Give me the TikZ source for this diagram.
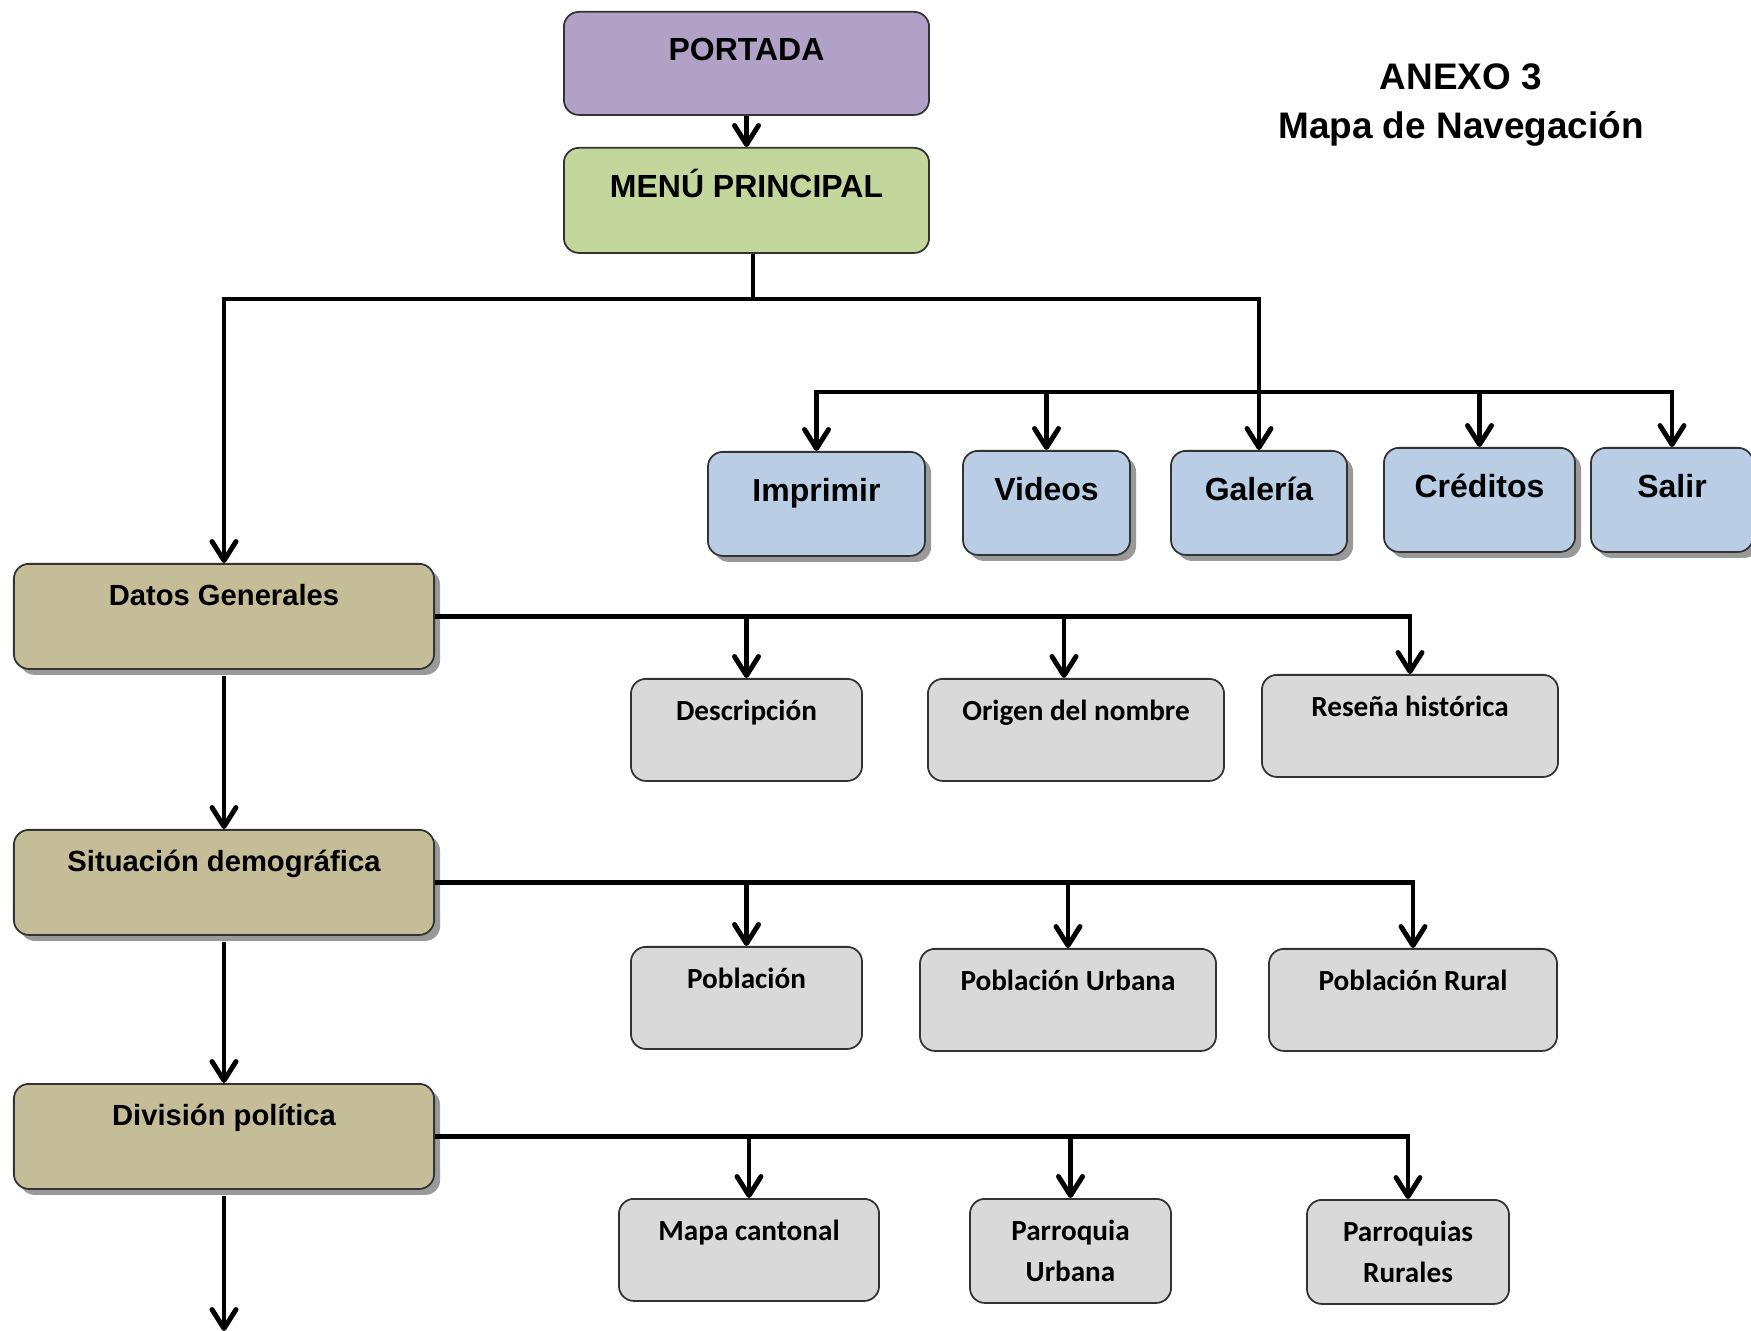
\documentclass[tikz,border=0pt]{standalone}
\usepackage{fontspec}
\usetikzlibrary{arrows.meta,shadows}
\newfontfamily\arialfont{Liberation Sans}
\newfontfamily\calibrifont{Carlito}
\definecolor{collila}{HTML}{B2A1C7}
\definecolor{cololiva}{HTML}{C3D69B}
\definecolor{colceleste}{HTML}{B9CDE5}
\definecolor{colarena}{HTML}{C4BD97}
\definecolor{colgris}{HTML}{D9D9D9}

\begin{document}
\begin{tikzpicture}[x=0.01cm,y=-0.01cm,
  caja/.style={draw=black!80,line width=0.5pt,rounded corners=0.15cm,anchor=north,
    inner xsep=0pt,inner ysep=0pt,align=center},
  sombra/.style={drop shadow={shadow xshift=0.06cm,shadow yshift=-0.06cm,fill=black!50,opacity=0.8}},
  cajaportada/.style={caja,fill=collila,font=\arialfont\bfseries\fontsize{9.1}{11}\selectfont,
    text height=0.485cm,text depth=0.545cm},
  cajamenu/.style={caja,fill=cololiva,font=\arialfont\bfseries\fontsize{9.1}{11}\selectfont,
    text height=0.495cm,text depth=0.555cm},
  cajaazul/.style={caja,sombra,fill=colceleste,font=\arialfont\bfseries\fontsize{9.1}{11}\selectfont,
    text height=0.495cm,text depth=0.545cm},
  cajaarena/.style={caja,sombra,fill=colarena,font=\arialfont\bfseries\fontsize{8.3}{11}\selectfont,
    text height=0.415cm,text depth=0.635cm},
  cajagris/.style={caja,fill=colgris,font=\calibrifont\bfseries\fontsize{8.3}{11.7}\selectfont,
    text height=0.42cm,text depth=0.60cm},
  cajagrisdos/.style={caja,fill=colgris,font=\calibrifont\bfseries\fontsize{8.3}{11.7}\selectfont,
    minimum height=1.04cm},
  titulo/.style={align=center,font=\arialfont\bfseries\fontsize{10.5}{14.2}\selectfont},
  conn/.style={line width=1.4pt},
  flecha/.style={conn,-{Straight Barb[length=1.9mm,width=2.4mm,round]}}
]
\useasboundingbox (0,0) rectangle (1751,1331);

\node[titulo] (titulo) at (1461,105) {ANEXO 3\\Mapa de Navegación};

\node[cajaportada,minimum width=3.65cm] (portada) at (746.5,11) {PORTADA};
\node[cajamenu,minimum width=3.65cm] (menu) at (746.5,147) {MENÚ PRINCIPAL};

\node[cajaazul,minimum width=2.17cm] (imprimir) at (816.5,451) {Imprimir};
\node[cajaazul,minimum width=1.67cm] (videos) at (1046.5,450) {Videos};
\node[cajaazul,minimum width=1.76cm] (galeria) at (1259,450) {Galería};
\node[cajaazul,minimum width=1.91cm] (creditos) at (1479.5,447) {Créditos};
\node[cajaazul,minimum width=1.62cm] (salir) at (1672,447) {Salir};

\node[cajaarena,minimum width=4.2cm] (datos) at (224,563) {Datos Generales};
\node[cajaarena,minimum width=4.2cm] (situacion) at (224,829) {Situación demográfica};
\node[cajaarena,minimum width=4.2cm] (division) at (224,1083) {División política};

\node[cajagris,minimum width=2.31cm] (descripcion) at (746.5,678) {Descripción};
\node[cajagris,minimum width=2.96cm] (origen) at (1076,678) {Origen del nombre};
\node[cajagris,minimum width=2.96cm] (resena) at (1410,674) {Reseña histórica};

\node[cajagris,minimum width=2.31cm] (poblacion) at (746.5,946) {Población};
\node[cajagris,minimum width=2.96cm] (urbana) at (1068,948) {Población Urbana};
\node[cajagris,minimum width=2.88cm] (rural) at (1413,948) {Población Rural};

\node[cajagris,minimum width=2.60cm] (mapa) at (749,1198) {Mapa cantonal};
\node[cajagrisdos,minimum width=2.01cm] (parroquia) at (1070.5,1198) {Parroquia\\Urbana};
\node[cajagrisdos,minimum width=2.02cm] (parroquias) at (1408,1199) {Parroquias\\Rurales};

\coordinate (ramal) at (753,299);
\coordinate (barra) at (0,392);
\coordinate (fin) at (224,1331);

\draw[flecha] (portada.south) -- (menu.north);
\draw[conn] (menu.south -| ramal) -- (ramal);
\draw[flecha] (ramal) -| (datos.north);
\draw[flecha] (ramal) -| (galeria.north);
\draw[flecha] (galeria.north |- barra) -| (imprimir.north);
\draw[flecha] (galeria.north |- barra) -| (salir.north);
\foreach \n in {videos,creditos}
\draw[flecha] (\n.north |- barra) -- (\n.north);

\draw[flecha] (datos.east) -| (resena.north);
\draw[flecha] (descripcion.north |- datos.east) -- (descripcion.north);
\draw[flecha] ([xshift=-0.12cm]origen.north |- datos.east) -- ([xshift=-0.12cm]origen.north);
\draw[flecha] (situacion.east) -| (rural.north);
\foreach \n in {poblacion,urbana}
\draw[flecha] (\n.north |- situacion.east) -- (\n.north);
\draw[flecha] (division.east) -| (parroquias.north);
\foreach \n in {mapa,parroquia}
\draw[flecha] (\n.north |- division.east) -- (\n.north);

\draw[flecha,shorten <=0.06cm] (datos.south) -- (situacion.north);
\draw[flecha,shorten <=0.06cm] (situacion.south) -- (division.north);
\draw[flecha,shorten <=0.06cm] (division.south) -- (fin);
\end{tikzpicture}
\end{document}
